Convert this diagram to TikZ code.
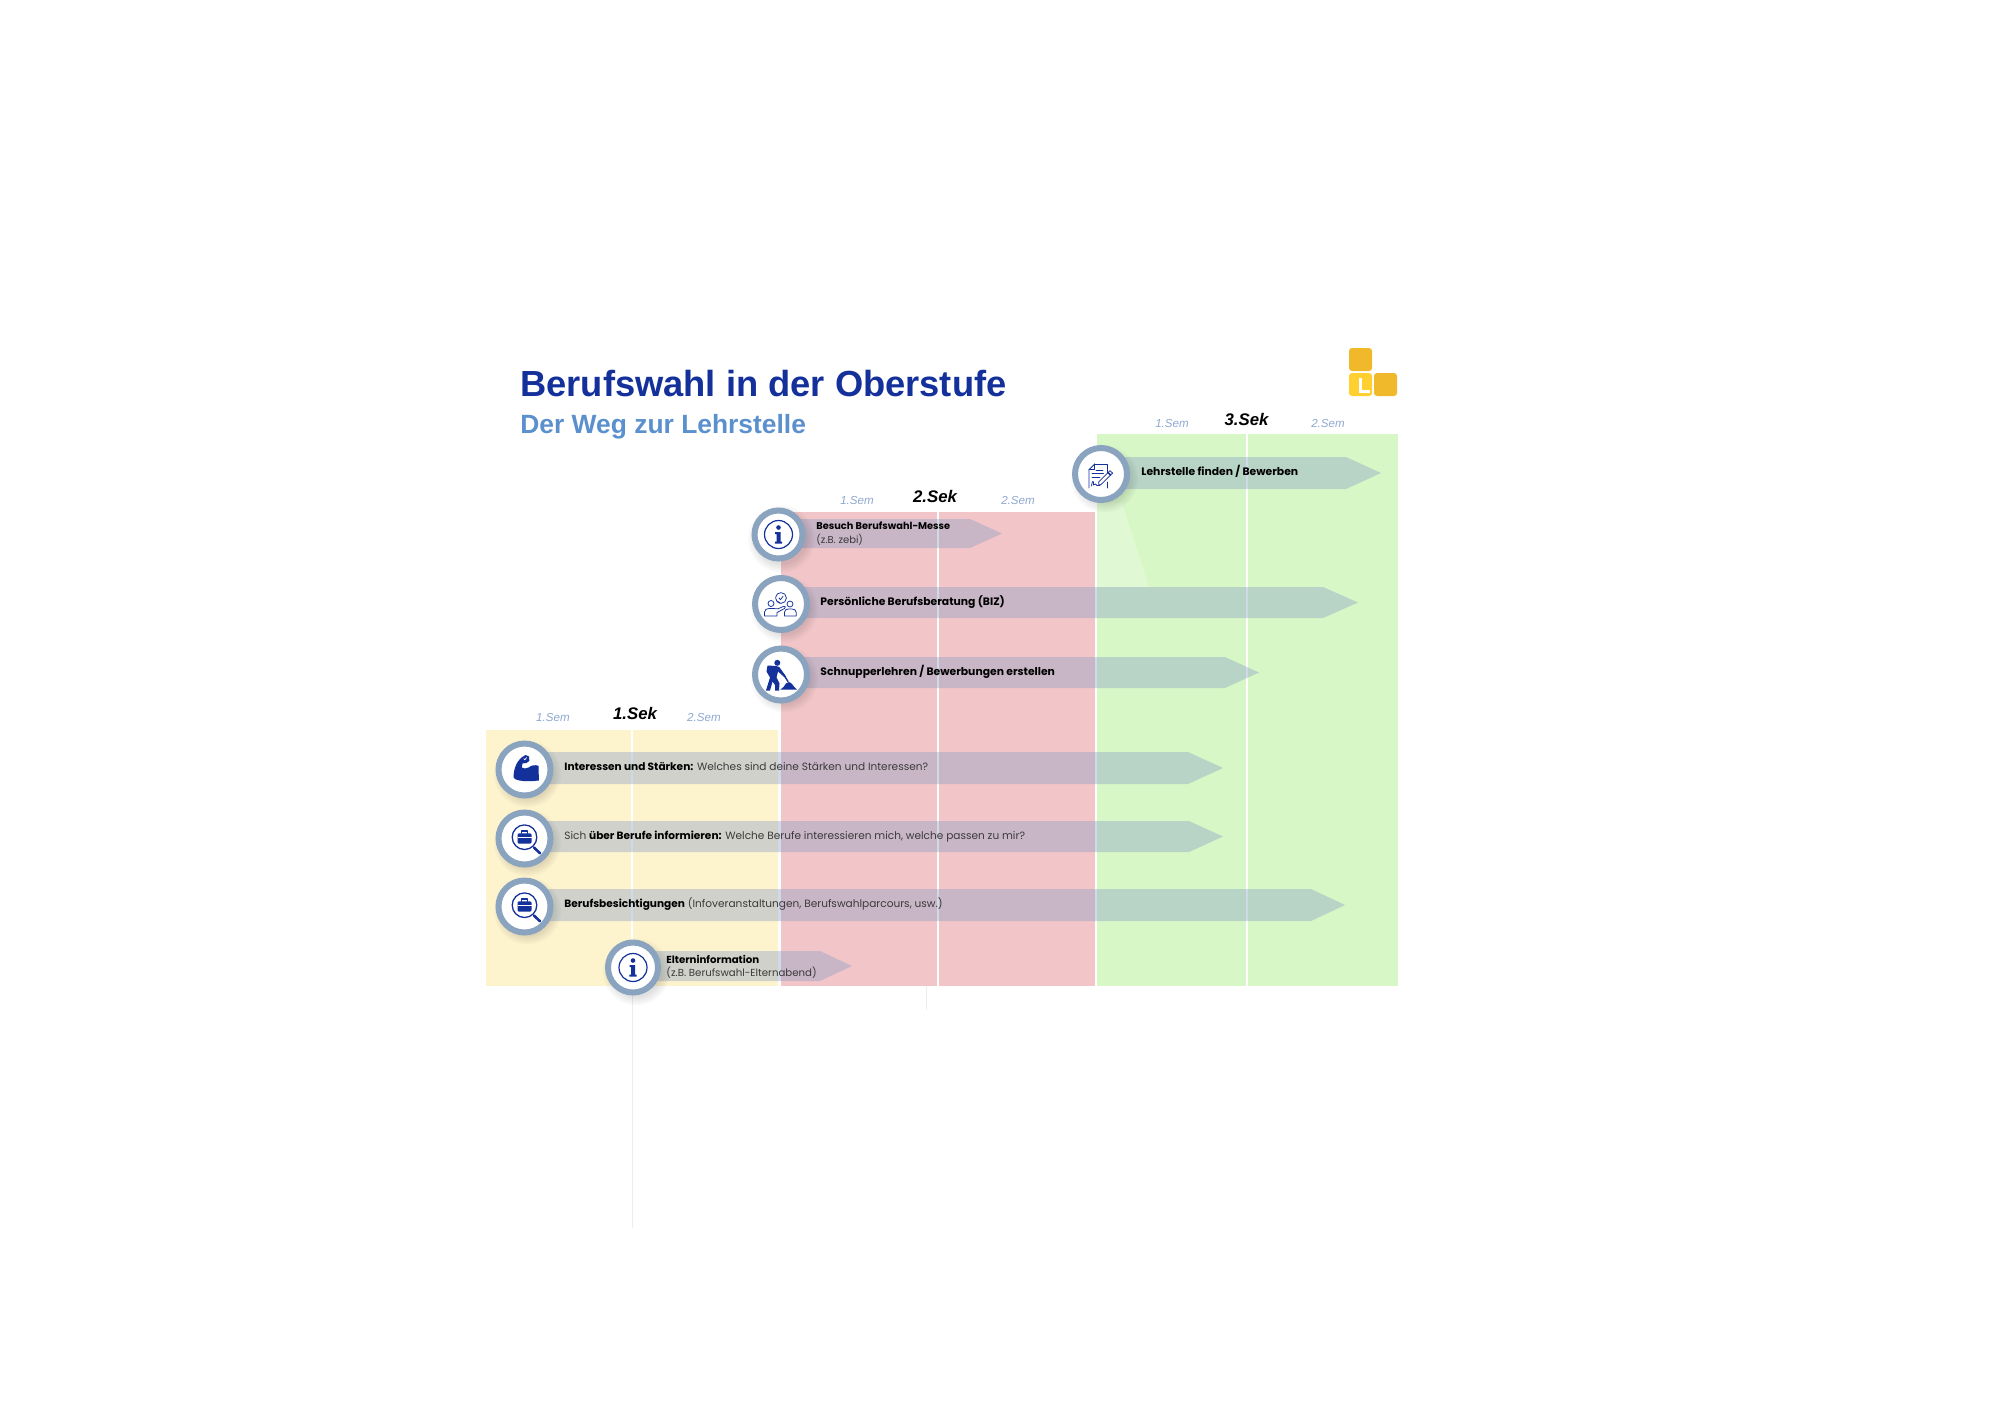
\documentclass[tikz,border=0pt]{standalone}
\usepackage{fontspec}
\setmainfont{Poppins}
\newfontfamily\hdf{Liberation Sans}
\definecolor{ttl}{HTML}{14309B}
\definecolor{sub}{HTML}{5B90CF}
\definecolor{semc}{HTML}{8FA9D0}
\definecolor{ringc}{HTML}{8AA3BF}
\definecolor{yel}{HTML}{FDF3CD}
\definecolor{redb}{HTML}{F2C6C8}
\definecolor{grn}{HTML}{D8F7C7}
\definecolor{barc}{HTML}{8AA0C6}
\definecolor{logoa}{HTML}{F0B92C}
\definecolor{logob}{HTML}{FFD02F}
\definecolor{bodyt}{HTML}{3A3A3A}
\tikzset{
  band/.style={fill=#1,draw=none},
  divider/.style={draw=white,line width=0.8pt},
  ghost/.style={draw=black!7,line width=0.4pt},
  bar/.style={fill=barc,fill opacity=.4,draw=none},
  ring/.style={circle,draw=ringc,line width=3pt,fill=white,inner sep=0pt,minimum size=#1},
  lab/.style={inner sep=0pt,anchor=base west,text=black,font=\fontsize{5.4}{6.6}\selectfont},
  labs/.style={inner sep=0pt,anchor=base west,text=black,font=\fontsize{#1}{6.2}\selectfont},
  labr/.style={inner sep=0pt,anchor=base west,text=bodyt,font=\fontsize{5.28}{6.2}\selectfont},
  sek/.style={inner sep=0pt,anchor=base,text=black,font=\hdf\fontsize{8.4}{10}\selectfont\bfseries\itshape},
  sem/.style={inner sep=0pt,anchor=base,text=semc,font=\hdf\fontsize{5.8}{7}\selectfont\itshape},
  ico/.style={draw=ttl,line width=0.38pt,line join=round,line cap=round},
  icof/.style={fill=ttl,draw=none},
}
\newcommand\shad{\foreach \d in {5,4,3,2,1,0}{\fill[black,opacity=.02] (3.5,5) circle[radius=25.5+\d*1.6];}}
\newcommand\infoicon{%
  \draw[ico,line width=.6pt] (0,0) circle[radius=14];
  \fill[icof] (0,-7) circle[radius=2.3];
  \fill[icof] (-3.4,-2.4) -- (2,-2.4) -- (2,7) -- (3.6,7) -- (3.6,9.2) -- (-3.6,9.2) -- (-3.6,7) -- (-2,7) -- (-2,-.4) -- (-3.4,-.4) -- cycle;
}
\newcommand\searchicon{%
  \draw[ico,line width=.65pt] (0,-1.3) circle[radius=12.3];
  \draw[ico,line width=1.3pt] (9.5,9) -- (15.5,14.8);
  \fill[icof,rounded corners=.6pt] (-7,-5.2) rectangle (7,5);
  \draw[ico,line width=.6pt] (-3,-5.2) -- (-3,-7.6) -- (3,-7.6) -- (3,-5.2);
  \draw[white,line width=.35pt] (-7,-.8) -- (7,-.8);
}
\newcommand\bizicon{%
  \draw[ico] (-10,-.5) circle[radius=3];
  \draw[ico] (9,0) circle[radius=3];
  \draw[ico] (-16.5,12) -- (-16.5,8) .. controls (-16.5,5.5) and (-14,4.5) .. (-12,4.5) -- (-8,4.5) -- (-3,4.8) -- (3,2.2) .. controls (4.5,1.8) and (5,3.5) .. (3.5,4.5) -- (-4,8.5) -- (-4,12) -- cycle;
  \draw[ico] (3.4,12) -- (3.4,8.5) .. controls (3.4,6) and (5.5,5) .. (7,5) -- (11,5) .. controls (13,5) and (15.3,6) .. (15.3,8.5) -- (15.3,12) -- cycle;
  \draw[ico] (-1.8,-.8) -- (-1,-1.2) .. controls (-4,-2) and (-5.4,-4) .. (-5.4,-6) arc[start angle=180,end angle=-170,radius=5.4];
  \draw[ico] (-2,-6) -- (-.5,-4.4) -- (2,-7.6);
}
\newcommand\workericon{%
  \fill[icof] (-3.7,-11.7) circle[radius=3];
  \fill[icof] (-13.5,-9) -- (-5,-8.5) -- (-1.8,-7.6) -- (5,2) -- (3.8,3) -- (-3,-3) -- (-4.5,3) -- (-1.5,9) -- (-2,16) -- (-6,16) -- (-6,10.5) -- (-8.5,7) -- (-11,16) -- (-15,16) -- (-11,3) -- (-14.5,-3) -- cycle;
  \draw[ico,line width=.7pt] (2,-1) -- (7,7);
  \fill[icof] (-.8,15.2) -- (2.5,12.5) .. controls (4,9.5) and (6,7.5) .. (8,7.5) .. controls (11,8) and (12,12) .. (16,15.2) -- cycle;
}
\newcommand\muscleicon{%
  \fill[icof] (-11,8) .. controls (-11,0) and (-8,-8) .. (-3,-12) -- (1,-14.5) -- (4.6,-13) -- (4.8,-8.5) -- (2,-6.6) -- (-2,-6) -- (-2.8,-2) .. controls (-1,-.8) and (2,-.6) .. (4,-2) .. controls (7,-4.4) and (11,-5) .. (14,-3.6) -- (14.4,11) .. controls (8,11.8) and (0,12) .. (-5,11) .. controls (-8,10.6) and (-10,9.6) .. (-11,8) -- cycle;
  \draw[white,line width=.35pt,line cap=round] (-.6,-10.8) -- (.4,-9.8) -- (2,-11.8);
}
\newcommand\contracticon{%
  \draw[ico] (-6.3,-10) -- (6.7,-10) -- (6.7,-1);
  \draw[ico] (6.7,8) -- (6.7,14) ;
  \draw[ico] (-6.3,-10) -- (-12,-4.3) -- (-12,14);
  \draw[ico] (-6.3,-10) -- (-6.3,-4.3) -- (-12,-4.3);
  \draw[ico] (-9,-.5) -- (2.5,-.5) (-9,3) -- (-1,3) (-5,-3.5) -- (2,-3.5);
  \draw[ico] (-9.5,12) .. controls (-9,6) and (-7,6) .. (-7.5,11) .. controls (-6,9) and (-5,10) .. (-4,11.5) -- (-1,11.5);
  \draw[ico,fill=white] (9,-3.4) -- (11.6,-.9) -- (.5,10) -- (-2,11.5) -- (-2.4,8) -- cycle;
  \draw[ico,line width=.8pt] (7,-1.6) -- (9.6,1);
}
\begin{document}
\begin{tikzpicture}[x=0.5pt,y=-0.5pt]
\useasboundingbox (0,0) rectangle (2000,1414);
\fill[white] (0,0) rectangle (2000,1414);
% ghost lines below the bands
\coordinate (ga) at (632,985); \coordinate (gb) at (632,1228);
\coordinate (gc) at (926,985); \coordinate (gd) at (926,1010);
\draw[ghost] (ga) -- (gb);
\draw[ghost] (gc) -- (gd);
% bands
\fill[band=yel] (486,730) rectangle (778,985.500);
\fill[band=redb] (781,512) rectangle (1095,985.500);
\fill[band=grn] (1097,434) rectangle (1398,985.500);
\draw[divider] (632,730) -- (632,985.500);
\draw[divider] (938,512) -- (938,985.500);
\draw[divider] (1247,434) -- (1247,985.500);
% faint wedge
\fill[white,opacity=.22] (1097,503) -- (1122,503) -- (1149,587) -- (1097,587) -- cycle;
% logo
\fill[logoa,rounded corners=1.5pt] (1349,371) -- (1349,348) -- (1372,348) -- (1372,371) -- cycle;
\fill[logob,rounded corners=1.5pt] (1372,373) -- (1372,396) -- (1349,396) -- (1349,373) -- cycle;
\fill[logoa,rounded corners=1.5pt] (1374,373) -- (1397,373) -- (1397,396) -- (1374,396) -- cycle;
\draw[white,line width=1.5pt] (1360,378) -- (1360,391) -- (1370,391);
% title
\node[inner sep=0pt,anchor=base west,text=ttl,font=\hdf\fontsize{18.15}{22}\selectfont\bfseries] (title) at (520,396) {Berufswahl in der Oberstufe};
\node[inner sep=0pt,anchor=base west,text=sub,font=\hdf\fontsize{13.2}{16}\selectfont\bfseries] (subtitle) at (520,433) {Der Weg zur Lehrstelle};
% grade labels
\node[sek] (s1) at (635,719) {1.Sek};
\node[sek] (s2) at (935,502) {2.Sek};
\node[sek] (s3) at (1246.500,425) {3.Sek};
\node[sem] (s1a) at (553,721.500) {1.Sem};
\node[sem] (s1b) at (704,721.500) {2.Sem};
\node[sem] (s2a) at (857,504.500) {1.Sem};
\node[sem] (s2b) at (1018,504.500) {2.Sem};
\node[sem] (s3a) at (1172,427.500) {1.Sem};
\node[sem] (s3b) at (1328,427.500) {2.Sem};
% bars
\fill[bar] (1101,457) -- (1346,457) -- (1381,473) -- (1346,489) -- (1101,489) -- cycle;
\fill[bar] (778,519) -- (970,519) -- (1002,533.500) -- (970,548) -- (778,548) -- cycle;
\fill[bar] (781,587) -- (1323,587) -- (1358,602.500) -- (1323,618) -- (781,618) -- cycle;
\fill[bar] (781,657) -- (1225,657) -- (1259,672.500) -- (1225,688) -- (781,688) -- cycle;
\fill[bar] (524,752) -- (1188,752) -- (1223,768) -- (1188,784) -- (524,784) -- cycle;
\fill[bar] (524,821) -- (1189,821) -- (1223,836.500) -- (1189,852) -- (524,852) -- cycle;
\fill[bar] (524,889) -- (1311,889) -- (1345,905) -- (1311,921) -- (524,921) -- cycle;
\fill[bar] (633,951) -- (820,951) -- (852,966) -- (820,981) -- (633,981) -- cycle;
% shadows
\foreach \px/\py in {1101/474,781/604,781/674,524/769,524/838,524/906,633/967,778/534}{
  \begin{scope}[shift={(\px,\py)}]\shad\end{scope}}
% rings
\node[ring=26pt] (c-lehr) at (1101,474) {};
\node[ring=24pt] (c-messe) at (778.500,534.500) {};
\node[ring=26pt] (c-biz) at (781,604) {};
\node[ring=26pt] (c-schn) at (781,674.500) {};
\node[ring=26pt] (c-int) at (524.500,769.500) {};
\node[ring=26pt] (c-info) at (524.500,838.500) {};
\node[ring=26pt] (c-bes) at (524.500,906.500) {};
\node[ring=25pt] (c-elt) at (633,967.500) {};
% icons
\begin{scope}[shift={(c-lehr.center)}]\contracticon\end{scope}
\begin{scope}[shift={(c-messe.center)}]\infoicon\end{scope}
\begin{scope}[shift={(c-biz.center)}]\bizicon\end{scope}
\begin{scope}[shift={(c-schn.center)}]\workericon\end{scope}
\begin{scope}[shift={(c-int.center)}]\muscleicon\end{scope}
\begin{scope}[shift={(c-info.center)}]\searchicon\end{scope}
\begin{scope}[shift={(c-bes.center)}]\searchicon\end{scope}
\begin{scope}[shift={(c-elt.center)}]\infoicon\end{scope}
% texts
\node[lab] (t-lehr) at (1141,475.500) {\textbf{Lehrstelle finden / Bewerben}};
\node[labs=4.9] (t-messe) at (816,529) {\textbf{Besuch Berufswahl-Messe}};
\node[labr,font=\fontsize{5}{6}\selectfont] (t-messe2) at (816,543) {(z.B. zebi)};
\node[lab] (t-biz) at (820,605.500) {\textbf{Persönliche Berufsberatung (BIZ)}};
\node[lab] (t-schn) at (820,675.500) {\textbf{Schnupperlehren / Bewerbungen erstellen}};
\node[labr] (t-int) at (564,770.500) {\textcolor{black}{\textbf{Interessen und Stärken:}} Welches sind deine Stärken und Interessen?};
\node[labr] (t-info) at (564,839.500) {Sich \textcolor{black}{\textbf{über Berufe informieren:}} Welche Berufe interessieren mich, welche passen zu mir?};
\node[labr] (t-bes) at (564,907.500) {\textcolor{black}{\textbf{Berufsbesichtigungen}} (Infoveranstaltungen, Berufswahlparcours, usw.)};
\node[labs=5.1] (t-elt) at (666,963.500) {\textbf{Elterninformation}};
\node[labr,font=\fontsize{5.1}{6}\selectfont] (t-elt2) at (666,976.500) {(z.B. Berufswahl-Elternabend)};
\end{tikzpicture}
\end{document}
